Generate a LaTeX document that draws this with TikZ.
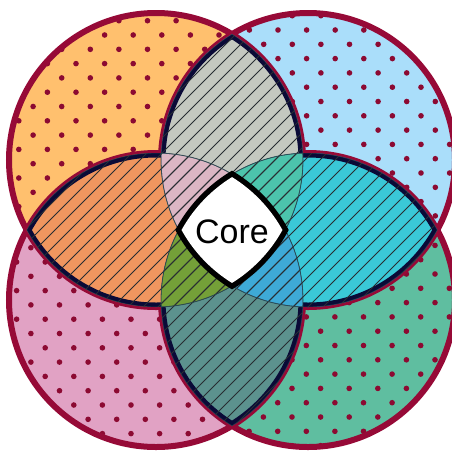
\documentclass[tikz,border=0pt]{standalone}
\usepackage{fontspec}
\setmainfont{Liberation Sans}
\definecolor{fillTL}{RGB}{255,192,110}
\definecolor{fillTR}{RGB}{170,222,250}
\definecolor{fillBL}{RGB}{225,162,196}
\definecolor{fillBR}{RGB}{95,190,160}
\definecolor{lensTop}{RGB}{196,200,192}
\definecolor{lensLeft}{RGB}{240,150,95}
\definecolor{lensRight}{RGB}{58,200,215}
\definecolor{lensBottom}{RGB}{92,146,142}
\definecolor{triTLTRBL}{RGB}{220,182,196}
\definecolor{triTLTRBR}{RGB}{76,196,172}
\definecolor{triTLBLBR}{RGB}{116,160,56}
\definecolor{triTRBLBR}{RGB}{62,170,215}
\definecolor{dotred}{RGB}{140,10,50}
\definecolor{ringred}{RGB}{150,10,55}
\definecolor{navy}{RGB}{10,10,55}
\definecolor{hatchgray}{RGB}{40,45,50}
\definecolor{seamcol}{RGB}{40,70,80}
% staggered dot grid starting at (#1,#2)
\newcommand\dotfield[2]{%
  \foreach \i in {0,...,12}{\foreach \j in {0,...,22}{
    \fill[dotred] ({#1+28.6*\i+14.3*mod(\j,2)},{#2+14.3*\j}) circle (2.8);}}}
\begin{document}
\begin{tikzpicture}[x=1pt,y=-1pt,
  ring/.style={draw=ringred, line width=6pt},
  lensline/.style={draw=navy, line width=9pt},
  hatch/.style={draw=hatchgray, line width=0.75pt},
  seam/.style={draw=seamcol, line width=0.8pt, opacity=0.8}]
\pgfmathsetmacro\RR{147}
\clip (0,0) rectangle (452,451);
\coordinate (tl) at (156,160);
\coordinate (tr) at (308,160);
\coordinate (bl) at (156,300);
\coordinate (br) at (308,300);

% single circles with dotted fill
\begin{scope}\clip (tl) circle (\RR); \fill[fillTL] (tl) circle (\RR); \dotfield{-9.8}{6.4}\end{scope}
\begin{scope}\clip (tr) circle (\RR); \fill[fillTR] (tr) circle (\RR); \dotfield{135}{1.4}\end{scope}
\begin{scope}\clip (bl) circle (\RR); \fill[fillBL] (bl) circle (\RR); \dotfield{-12}{147.6}\end{scope}
\begin{scope}\clip (br) circle (\RR); \fill[fillBR] (br) circle (\RR); \dotfield{149}{131}\end{scope}

% outer rings
\draw[ring] (tl) circle (\RR) (tr) circle (\RR) (bl) circle (\RR) (br) circle (\RR);

% pairwise overlaps
\begin{scope}\clip (tl) circle (\RR); \fill[lensTop] (tr) circle (\RR); \end{scope}
\begin{scope}\clip (tl) circle (\RR); \fill[lensLeft] (bl) circle (\RR); \end{scope}
\begin{scope}\clip (tr) circle (\RR); \fill[lensRight] (br) circle (\RR); \end{scope}
\begin{scope}\clip (bl) circle (\RR); \fill[lensBottom] (br) circle (\RR); \end{scope}

% lens borders
\begin{scope}\clip (tl) circle (\RR); \clip (tr) circle (\RR); \draw[lensline] (tl) circle (\RR) (tr) circle (\RR); \end{scope}
\begin{scope}\clip (tl) circle (\RR); \clip (bl) circle (\RR); \draw[lensline] (tl) circle (\RR) (bl) circle (\RR); \end{scope}
\begin{scope}\clip (tr) circle (\RR); \clip (br) circle (\RR); \draw[lensline] (tr) circle (\RR) (br) circle (\RR); \end{scope}
\begin{scope}\clip (bl) circle (\RR); \clip (br) circle (\RR); \draw[lensline] (bl) circle (\RR) (br) circle (\RR); \end{scope}

% triple overlaps
\begin{scope}\clip (tl) circle (\RR); \clip (tr) circle (\RR); \fill[triTLTRBL] (bl) circle (\RR); \end{scope}
\begin{scope}\clip (tl) circle (\RR); \clip (tr) circle (\RR); \fill[triTLTRBR] (br) circle (\RR); \end{scope}
\begin{scope}\clip (tl) circle (\RR); \clip (bl) circle (\RR); \fill[triTLBLBR] (br) circle (\RR); \end{scope}
\begin{scope}\clip (tr) circle (\RR); \clip (bl) circle (\RR); \fill[triTRBLBR] (br) circle (\RR); \end{scope}

% hatching and inner seams over the overlaps
\foreach \a/\b in {tl/tr, tl/bl, tr/br, bl/br}{
  \begin{scope}
    \clip (\a) circle (\RR); \clip (\b) circle (\RR);
    \foreach \c in {0,15,...,930} \draw[hatch] (\c,0) -- ({\c-460},460);
    \draw[seam] (tl) circle (\RR) (tr) circle (\RR) (bl) circle (\RR) (br) circle (\RR);
  \end{scope}}

% core: common part of all four circles
\begin{scope}
  \clip (tl) circle (150); \clip (tr) circle (150); \clip (bl) circle (150);
  \fill[black] (br) circle (150);
\end{scope}
\begin{scope}
  \clip (tl) circle (144.5); \clip (tr) circle (144.5); \clip (bl) circle (144.5);
  \fill[white] (br) circle (144.5);
\end{scope}
\node (core) at (232,231.5) {\fontsize{34}{40}\selectfont Core};
\end{tikzpicture}
\end{document}
